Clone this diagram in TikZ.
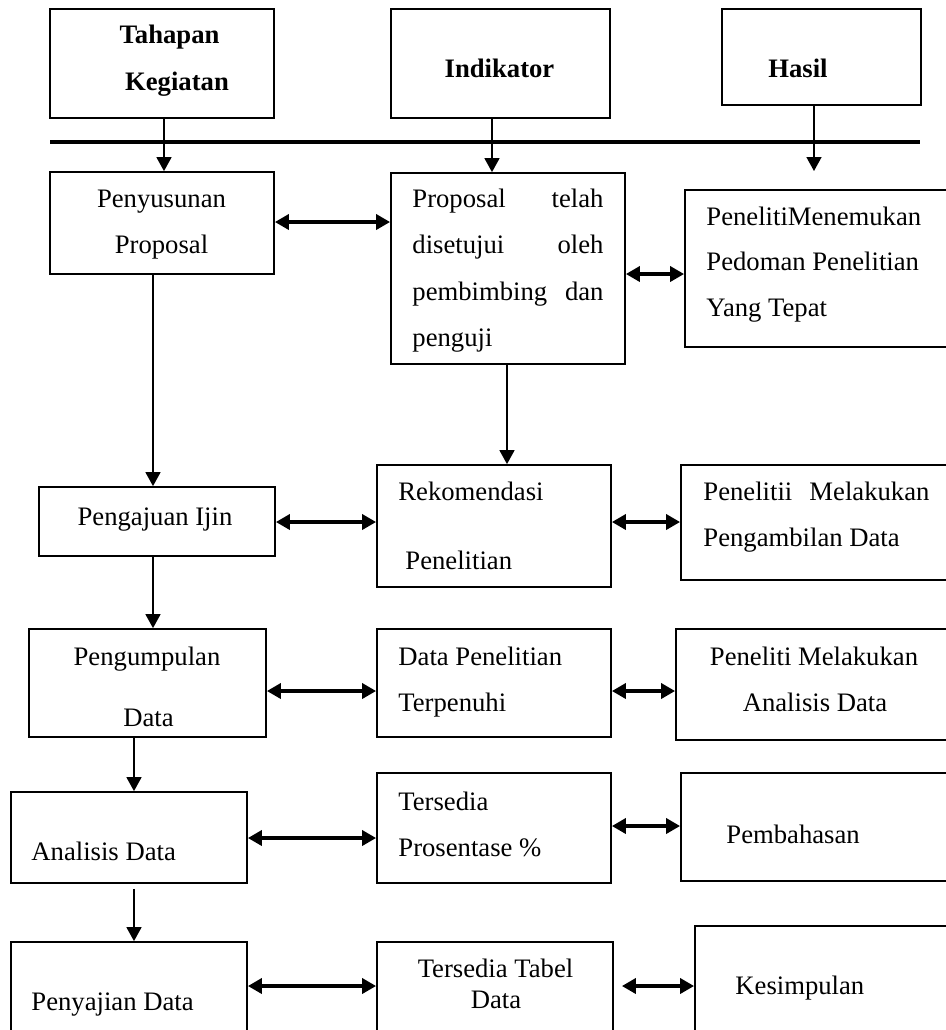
\documentclass[tikz,border=0pt]{standalone}
\usepackage{fontspec}
\setmainfont{Liberation Serif}
\usetikzlibrary{arrows.meta,fit,calc}
\newcommand{\spreadline}[2]{\makebox[#1][s]{#2}}

\begin{document}
\begin{tikzpicture}[x=0.45pt,y=-0.45pt,
    box/.style={draw,line width=0.8pt,inner sep=0pt},
    txt/.style={inner sep=0pt,anchor=base,font=\fontsize{12}{14}\selectfont},
    hdr/.style={txt,font=\fontsize{12}{14}\selectfont\bfseries},
    down/.style={-{Triangle[length=6.3pt,width=6.75pt]},line width=0.7pt},
    dbl/.style={{Triangle[length=6.3pt,width=6.75pt]}-{Triangle[length=6.3pt,width=6.75pt]},line width=2pt}]
    \path[use as bounding box,clip] (0,0) rectangle (946,1030);

    % Header row and the thick rule
    \node[box,fit={(50,9) (274,118)}]   (hTahap) {};
    \node[box,fit={(391,9) (610,118)}]  (hIndik) {};
    \node[box,fit={(722,9) (921,105)}]  (hHasil) {};
    \node[hdr] (tTahap1) at (169.5,43) {Tahapan};
    \node[hdr] (tTahap2) at (177,90)   {Kegiatan};
    \node[hdr] (tIndik)  at (499.5,77) {Indikator};
    \node[hdr] (tHasil)  at (798,77)   {Hasil};
    \coordinate (lnL) at (50,142);
    \coordinate (lnR) at (920,142);
    \draw[line width=1.9pt] (lnL) -- (lnR);

    % Column 1: Tahapan Kegiatan
    \node[box,fit={(50,172) (274,274)}]  (pnyProp)  {};
    \node[box,fit={(39,487) (275,556)}]  (ajuIjin)  {};
    \node[box,fit={(29,629) (266,737)}]  (kumpul)   {};
    \node[box,fit={(11,792) (247,883)}]  (analisis) {};
    \node[box,fit={(11,942) (247,1045)}] (sajian)   {};
    \node[txt] (tPny1) at (161.5,207) {Penyusunan};
    \node[txt] (tPny2) at (161.5,253) {Proposal};
    \node[txt] (tAju)  at (155,525)   {Pengajuan Ijin};
    \node[txt] (tKum1) at (147,665)   {Pengumpulan};
    \node[txt] (tKum2) at (148.5,726) {Data};
    \node[txt,anchor=base west] (tAnl) at (31,860)  {Analisis Data};
    \node[txt,anchor=base west] (tSaj) at (31,1010) {Penyajian Data};

    % Column 2: Indikator
    \node[box,fit={(391,173) (625,364)}] (propTelah) {};
    \node[box,fit={(377,465) (611,587)}] (rekom)     {};
    \node[box,fit={(377,629) (611,737)}] (dataTerp)  {};
    \node[box,fit={(377,773) (611,883)}] (prosen)    {};
    \node[box,fit={(377,942) (613,1045)}] (tabel)    {};
    \node[txt,anchor=base west] (tProp1) at (412,207) {\spreadline{86pt}{Proposal telah}};
    \node[txt,anchor=base west] (tProp2) at (412,253) {\spreadline{86pt}{disetujui oleh}};
    \node[txt,anchor=base west] (tProp3) at (412,300) {\spreadline{86pt}{pembimbing dan}};
    \node[txt,anchor=base west] (tProp4) at (412,346) {penguji};
    \node[txt,anchor=base west] (tRek1) at (398,500) {Rekomendasi};
    \node[txt,anchor=base west] (tRek2) at (405,569) {Penelitian};
    \node[txt,anchor=base west] (tDat1) at (398,665) {Data Penelitian};
    \node[txt,anchor=base west] (tDat2) at (398,711) {Terpenuhi};
    \node[txt,anchor=base west] (tPro1) at (398,810) {Tersedia};
    \node[txt,anchor=base west] (tPro2) at (398,856) {Prosentase \%};
    \node[txt] (tTab1) at (495.5,977) {Tersedia Tabel};
    \node[txt] (tTab2) at (496,1008)  {Data};

    % Column 3: Hasil
    \node[box,fit={(685,190) (955,347)}]  (hslPedoman)  {};
    \node[box,fit={(681,465) (955,580)}]  (hslAmbil)    {};
    \node[box,fit={(676,629) (955,740)}]  (hslAnalisis) {};
    \node[box,fit={(681,773) (955,881)}]  (bahas)       {};
    \node[box,fit={(695,926) (955,1045)}] (simpul)      {};
    \node[txt,anchor=base west] (tPed1) at (706,225) {PenelitiMenemukan};
    \node[txt,anchor=base west] (tPed2) at (706,270) {Pedoman Penelitian};
    \node[txt,anchor=base west] (tPed3) at (706,316) {Yang Tepat};
    \node[txt,anchor=base west] (tAmb1) at (703,500) {\spreadline{101.7pt}{Penelitii Melakukan}};
    \node[txt,anchor=base west] (tAmb2) at (703,546) {Pengambilan Data};
    \node[txt] (tAna1) at (814,665) {Peneliti Melakukan};
    \node[txt] (tAna2) at (815,711) {Analisis Data};
    \node[txt,anchor=base west] (tBhs) at (726,843) {Pembahasan};
    \node[txt,anchor=base west] (tSmp) at (735,994) {Kesimpulan};

    % Arrows from the header
    \coordinate (hasilEnd) at (814,171);
    \draw[down] (hTahap.south -| 164,0) -- (pnyProp.north -| 164,0);
    \draw[down] (hIndik.south -| 492,0) -- (propTelah.north -| 492,0);
    \draw[down] (hHasil.south -| 814,0) -- (hasilEnd);

    % Flow down the first two columns
    \draw[down] (pnyProp.south -| 153,0) -- (ajuIjin.north -| 153,0);
    \draw[down] (propTelah.south -| 507,0) -- (rekom.north -| 507,0);
    \draw[down] (ajuIjin.south -| 153,0) -- (kumpul.north -| 153,0);
    \draw[down] (kumpul.south -| 134,0) -- (analisis.north -| 134,0);
    \draw[down] ($(analisis.south -| 134,0)+(0,5)$) -- (sajian.north -| 134,0);

    % Two-way links between the columns
    \draw[dbl] (pnyProp.east |- 0,222)   -- (propTelah.west |- 0,222);
    \draw[dbl] (propTelah.east |- 0,274) -- (hslPedoman.west |- 0,274);
    \draw[dbl] (ajuIjin.east |- 0,522)   -- (rekom.west |- 0,522);
    \draw[dbl] (rekom.east |- 0,522)     -- (hslAmbil.west |- 0,522);
    \draw[dbl] (kumpul.east |- 0,691)    -- (dataTerp.west |- 0,691);
    \draw[dbl] (dataTerp.east |- 0,691)  -- (hslAnalisis.west |- 0,691);
    \draw[dbl] (analisis.east |- 0,838)  -- (prosen.west |- 0,838);
    \draw[dbl] (prosen.east |- 0,826)    -- (bahas.west |- 0,826);
    \draw[dbl] (sajian.east |- 0,986)    -- (tabel.west |- 0,986);
    \draw[dbl] ($(tabel.east |- 0,986)+(8,0)$) -- (simpul.west |- 0,986);
\end{tikzpicture}
\end{document}
